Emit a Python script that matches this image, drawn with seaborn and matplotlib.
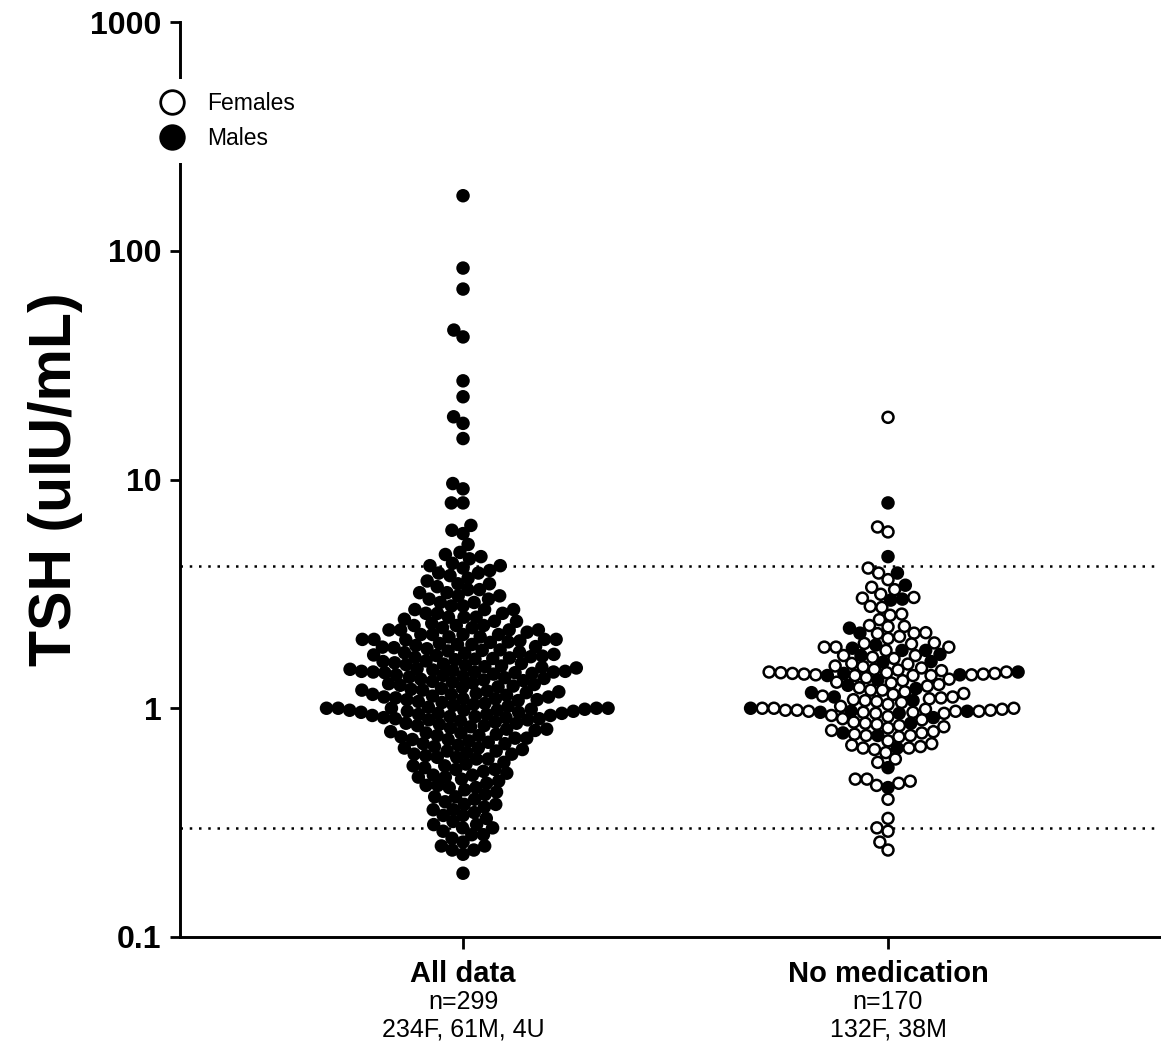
import numpy as np
import pandas as pd
import matplotlib
matplotlib.use("Agg")
import matplotlib.pyplot as plt
import matplotlib.transforms as mtransforms
from matplotlib.lines import Line2D
from matplotlib.ticker import FixedLocator, FixedFormatter, NullLocator
import seaborn as sns

# ---------------- data ----------------
categories = ["All data", "No medication"]
n_line1 = ["n=299", "n=170"]
n_line2 = ["234F, 61M, 4U", "132F, 38M"]
ref_range = [0.3, 4.2]
y_ticks = [0.1, 1, 10, 100, 1000]
y_tick_labels = ["0.1", "1", "10", "100", "1000"]

all_tsh = [
    174, 84, 68, 45, 42, 27, 23, 18.8, 17.6, 15.1, 9.6, 9.1, 7.9, 7.9,
    6.3, 6.0, 5.8,
    5.2, 4.8, 4.7, 4.6, 4.5,
    4.3, 4.2, 4.2, 4.1, 4.0, 3.9, 3.9, 3.8, 3.7, 3.6,
    3.5, 3.5, 3.4, 3.3, 3.3, 3.2, 3.2, 3.1, 3.1, 3.0, 3.0,
    2.9, 2.9, 2.8, 2.8, 2.7, 2.7, 2.7, 2.6, 2.6, 2.6, 2.5, 2.5, 2.5, 2.45,
    2.4, 2.4, 2.35, 2.3, 2.3, 2.3, 2.25, 2.25, 2.2, 2.2, 2.2, 2.2, 2.15, 2.1,
    2.1, 2.1, 2.1, 2.05, 2.05, 2.0, 2.0, 2.0, 2.0, 1.99,
    1.97, 1.95, 1.94, 1.92, 1.9, 1.9, 1.88, 1.86, 1.85, 1.84, 1.82, 1.8, 1.79,
    1.78, 1.76, 1.75, 1.74, 1.72, 1.71, 1.7, 1.69, 1.68, 1.67, 1.66, 1.65,
    1.64, 1.63,
    1.61, 1.6, 1.58, 1.57, 1.56, 1.55, 1.54, 1.53, 1.52, 1.51, 1.5, 1.49,
    1.48, 1.47, 1.46, 1.45, 1.45, 1.44, 1.44, 1.44, 1.43, 1.43, 1.42, 1.41,
    1.4, 1.39, 1.38, 1.37, 1.36, 1.35, 1.34, 1.33,
    1.32, 1.31, 1.3, 1.29, 1.28, 1.27, 1.26, 1.25, 1.24, 1.23, 1.22, 1.21,
    1.2, 1.2, 1.19, 1.18, 1.17, 1.16, 1.15, 1.15, 1.14, 1.13, 1.12, 1.12,
    1.11, 1.1, 1.1, 1.09, 1.09, 1.08,
    1.07, 1.06, 1.05, 1.04, 1.03, 1.02, 1.01, 1.0, 1.0, 1.0, 1.0, 1.0, 0.99,
    0.99, 0.98, 0.98, 0.98, 0.97, 0.97, 0.96, 0.96, 0.95, 0.95, 0.94, 0.94,
    0.93, 0.93, 0.92, 0.92, 0.91, 0.91, 0.9, 0.9, 0.89, 0.89,
    0.88, 0.87, 0.86, 0.86, 0.85, 0.84, 0.84, 0.83, 0.82, 0.81, 0.81, 0.8,
    0.79, 0.78, 0.78, 0.77, 0.76, 0.76, 0.75, 0.74, 0.74, 0.73, 0.73, 0.72,
    0.71, 0.7, 0.7, 0.69, 0.68, 0.67, 0.67, 0.66, 0.65, 0.65, 0.64, 0.63,
    0.63, 0.62, 0.61, 0.61, 0.6, 0.6,
    0.58, 0.57, 0.56, 0.56, 0.55, 0.54, 0.54, 0.53, 0.52, 0.51, 0.51, 0.5,
    0.5, 0.49,
    0.48, 0.47, 0.46, 0.46, 0.45, 0.45, 0.44, 0.43, 0.42, 0.41, 0.41, 0.4,
    0.39, 0.38, 0.38, 0.37, 0.36, 0.36, 0.35, 0.34, 0.34, 0.33,
    0.32, 0.31, 0.31, 0.3, 0.3, 0.29, 0.28, 0.28, 0.27,
    0.26, 0.25, 0.25, 0.24, 0.24, 0.23,
    0.19,
]

nomed_female_tsh = [
    18.7, 6.2, 5.9, 4.1, 3.9, 3.65, 3.38, 3.3, 3.15, 3.05, 3.03, 2.79,
    2.76, 2.58, 2.55, 2.44, 2.3, 2.28, 2.27, 2.14, 2.13, 2.12, 2.06, 2.02,
    1.93, 1.92, 1.91, 1.85, 1.85, 1.85, 1.79, 1.7, 1.7, 1.67, 1.65, 1.57,
    1.56, 1.53,
    1.52, 1.5, 1.48, 1.47, 1.46,
    1.44, 1.44, 1.43, 1.43, 1.42, 1.42, 1.41, 1.41, 1.4, 1.4, 1.39, 1.39, 1.39,
    1.36, 1.34, 1.32, 1.3, 1.29,
    1.27, 1.25, 1.23, 1.2, 1.2, 1.18, 1.16, 1.15, 1.13, 1.12, 1.11, 1.1,
    1.09, 1.08, 1.07,
    1.06, 1.04, 1.02,
    1.0, 1.0, 1.0, 0.99, 0.99, 0.98, 0.98, 0.98, 0.97, 0.97, 0.97, 0.96,
    0.96, 0.95, 0.95,
    0.93, 0.92, 0.9, 0.89,
    0.87, 0.86, 0.85, 0.84, 0.83, 0.82, 0.8, 0.79, 0.78, 0.77, 0.76, 0.76,
    0.75,
    0.72, 0.7, 0.69, 0.68, 0.67, 0.67, 0.66, 0.64, 0.6, 0.58, 0.49, 0.49,
    0.48, 0.47, 0.46, 0.4, 0.33, 0.3, 0.29, 0.26, 0.24,
]

nomed_male_tsh = [
    7.9, 4.6, 3.9, 3.45, 3.0, 2.97, 2.24, 2.13,
    1.89, 1.83, 1.79, 1.79, 1.72, 1.7, 1.6, 1.59,
    1.44, 1.42, 1.4, 1.39, 1.33,
    1.26, 1.22, 1.17, 1.12, 1.08,
    1.0, 0.97, 0.97, 0.96, 0.95, 0.91,
    0.86, 0.78, 0.76,
    0.67, 0.55, 0.45,
]

df = pd.DataFrame({
    "category": [categories[0]] * len(all_tsh)
    + [categories[1]] * (len(nomed_female_tsh) + len(nomed_male_tsh)),
    "tsh": all_tsh + nomed_female_tsh + nomed_male_tsh,
    "group": ["All"] * len(all_tsh) + ["Females"] * len(nomed_female_tsh)
    + ["Males"] * len(nomed_male_tsh),
})

# ---------------- style ----------------
sns.set_style("ticks")
plt.rcParams["font.family"] = ["Liberation Sans", "DejaVu Sans"]
plt.rcParams["text.color"] = "black"
plt.rcParams["axes.labelcolor"] = "black"
plt.rcParams["xtick.color"] = "black"
plt.rcParams["ytick.color"] = "black"

W, H = 1161, 1047
fig, ax = plt.subplots(figsize=(W / 100, H / 100), dpi=100)
fig.subplots_adjust(left=180 / W, right=1160 / W, bottom=1 - 937 / H, top=1 - 22 / H)

ax.set_yscale("log")
palette = {"All": "black", "Females": "white", "Males": "black"}

layout_size = 6.2   # size used to compute the swarm layout (points)
final_size = 7.9    # size used for drawing (points overlap like the original)
edge_w = 1.8

sns.swarmplot(data=df, x="category", y="tsh", hue="group", order=categories,
              hue_order=["All", "Females", "Males"], palette=palette,
              size=layout_size, linewidth=edge_w, edgecolor="black",
              legend=False, ax=ax, zorder=3)

ax.set_ylim(0.1, 1000)
ax.set_xlim(-0.666, 1.64)

for y in ref_range:
    ax.axhline(y, color="black", lw=1.8, ls=(0, (1, 2.7)), zorder=1)

# ticks
ax.yaxis.set_major_locator(FixedLocator(y_ticks))
ax.yaxis.set_major_formatter(FixedFormatter(y_tick_labels))
ax.yaxis.set_minor_locator(NullLocator())
ax.tick_params(axis="y", direction="out", length=7.5, width=2, pad=6,
               labelsize=23, color="black", labelcolor="black")
ax.tick_params(axis="x", direction="out", length=8.5, width=2, pad=8,
               labelsize=21, color="black", labelcolor="black")
for lab in ax.get_yticklabels() + ax.get_xticklabels():
    lab.set_fontweight("bold")
ax.set_xlabel("")
ax.set_ylabel("TSH (uIU/mL)", fontsize=42.5, fontweight="bold", color="black")
ax.yaxis.set_label_coords(-0.099, 0.5)

sns.despine(ax=ax)
for s in ["left", "bottom"]:
    ax.spines[s].set_linewidth(2.1)
    ax.spines[s].set_color("black")

# sample size lines under categories
trans = mtransforms.blended_transform_factory(ax.transData, ax.transAxes)
for i in range(len(categories)):
    ax.text(i, (937 - 1009) / 915, n_line1[i], transform=trans, ha="center",
            va="baseline", fontsize=18, color="black")
    ax.text(i, (937 - 1037) / 915, n_line2[i], transform=trans, ha="center",
            va="baseline", fontsize=18, color="black")

# legend
handles = [
    Line2D([], [], ls="none", marker="o", markersize=17, markerfacecolor="white",
           markeredgecolor="black", markeredgewidth=2),
    Line2D([], [], ls="none", marker="o", markersize=17, markerfacecolor="black",
           markeredgecolor="black", markeredgewidth=2),
]
leg = ax.legend(handles, ["Females", "Males"], loc="upper left",
                bbox_to_anchor=(148 / W, 1 - 79 / H), bbox_transform=fig.transFigure,
                borderaxespad=0, frameon=True, fontsize=16.5, handlelength=1.0,
                handletextpad=1.05, labelspacing=0.55, borderpad=0.55)
leg.get_frame().set_facecolor("white")
leg.get_frame().set_edgecolor("none")
leg.get_frame().set_alpha(1)
leg.set_zorder(10)
for t in leg.get_texts():
    t.set_color("black")

# compute swarm layout, then freeze it and enlarge the markers
fig.canvas.draw()
for coll in ax.collections:
    if "draw" in coll.__dict__:
        del coll.draw
    coll.set_sizes([final_size ** 2])

fig.savefig("out.png", dpi=100)
